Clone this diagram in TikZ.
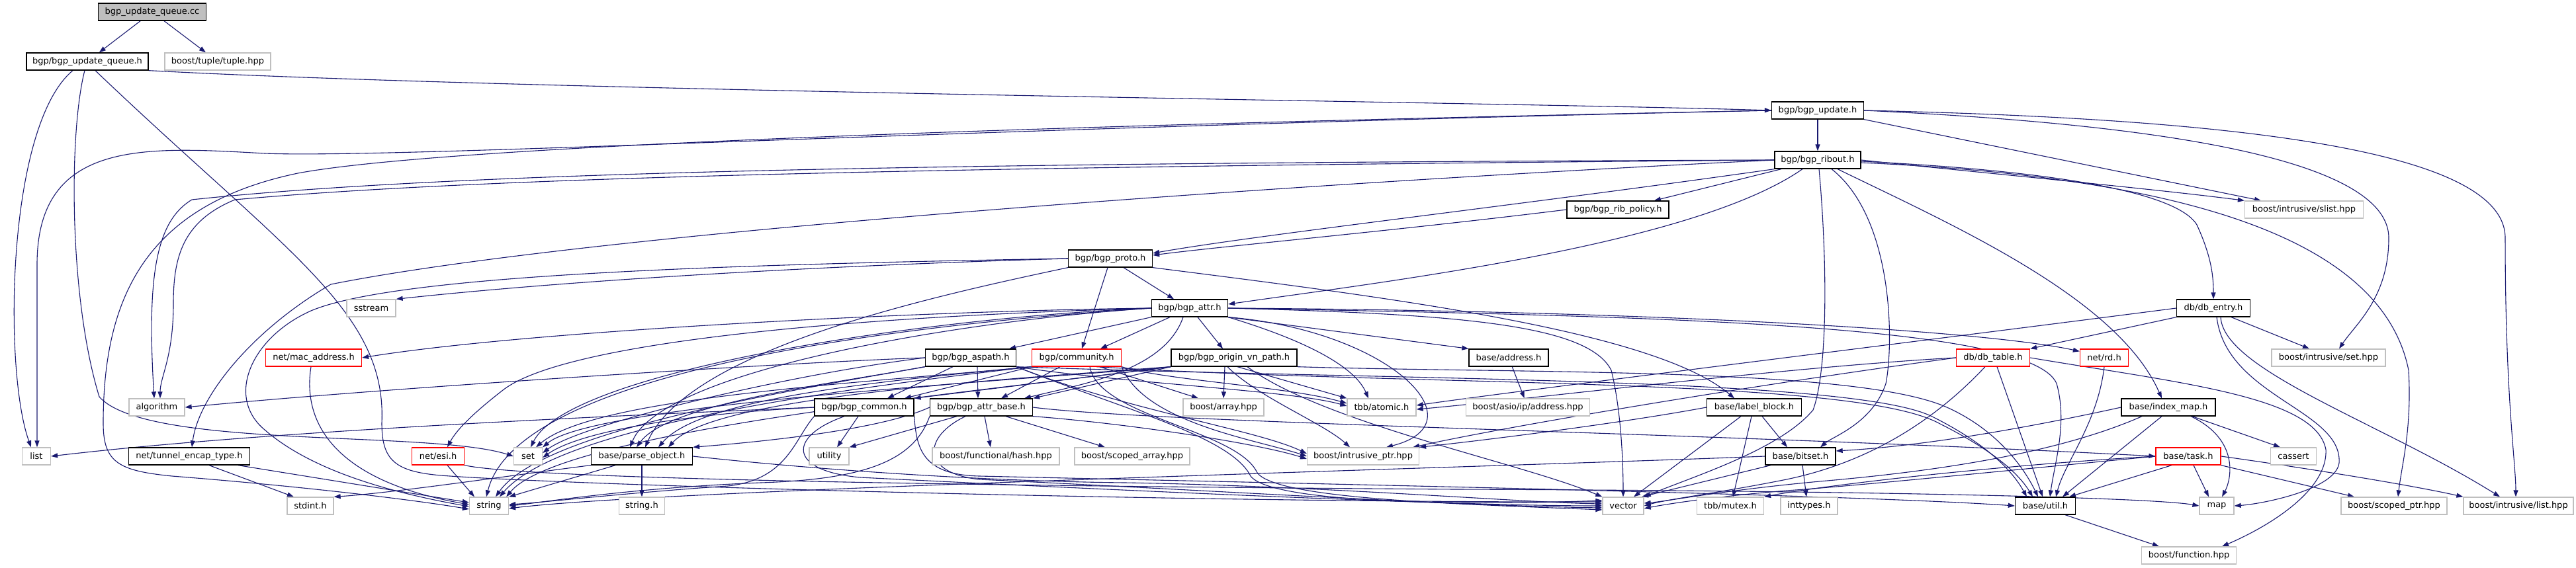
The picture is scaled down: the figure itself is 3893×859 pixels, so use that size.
\documentclass[tikz,border=0pt]{standalone}
\usepackage{fontspec}
\setmainfont{DejaVu Sans}
\usetikzlibrary{arrows.meta}
\definecolor{linkblue}{HTML}{191970}
\definecolor{grey75}{HTML}{BFBFBF}
\definecolor{trunc}{HTML}{FF0000}
\pgfdeclarelayer{background}
\pgfsetlayers{background,main}

\begin{document}
\begin{tikzpicture}[
  x=1pt, y=-1pt,
  hdrbox/.style={draw=black, fill=white, line width=1.3pt, minimum height=26pt, inner sep=0pt, font=\fontsize{13}{15}\selectfont},
  sysbox/.style={hdrbox, draw=grey75},
  cutbox/.style={hdrbox, draw=trunc},
  rootbox/.style={hdrbox, fill=grey75},
  dep/.style={->, draw=linkblue, line width=1.1pt},
  >={Triangle[length=10pt,width=7pt]}
]
\useasboundingbox (0,0) rectangle (3893,859);

\node[rootbox, minimum width=163pt] (cc) at (230,18) {bgp\_update\_queue.cc};
\node[hdrbox, minimum width=184pt] (uqh) at (132,93) {bgp/bgp\_update\_queue.h};
\node[sysbox, minimum width=160pt] (tuple) at (329,93) {boost/tuple/tuple.hpp};
\node[hdrbox, minimum width=139pt] (upd) at (2747,167) {bgp/bgp\_update.h};
\node[hdrbox, minimum width=130pt] (ribout) at (2747,242) {bgp/bgp\_ribout.h};
\node[hdrbox, minimum width=154pt] (ribpol) at (2445,317) {bgp/bgp\_rib\_policy.h};
\node[sysbox, minimum width=179pt] (slist) at (3482,317) {boost/intrusive/slist.hpp};
\node[hdrbox, minimum width=127pt] (proto) at (1678,391) {bgp/bgp\_proto.h};
\node[sysbox, minimum width=74pt] (sstream) at (561,466) {sstream};
\node[hdrbox, minimum width=115pt] (attr) at (1798,466) {bgp/bgp\_attr.h};
\node[hdrbox, minimum width=111pt] (dbentry) at (3345,466) {db/db\_entry.h};
\node[cutbox, minimum width=145pt] (macaddr) at (474,541) {net/mac\_address.h};
\node[hdrbox, minimum width=137pt] (aspath) at (1467,541) {bgp/bgp\_aspath.h};
\node[cutbox, minimum width=135pt] (community) at (1627,541) {bgp/community.h};
\node[hdrbox, minimum width=190pt] (originvn) at (1865,541) {bgp/bgp\_origin\_vn\_path.h};
\node[hdrbox, minimum width=120pt] (address) at (2280,541) {base/address.h};
\node[cutbox, minimum width=111pt] (dbtable) at (3012,541) {db/db\_table.h};
\node[cutbox, minimum width=73pt] (rd) at (3180,541) {net/rd.h};
\node[sysbox, minimum width=172pt] (isethpp) at (3519,541) {boost/intrusive/set.hpp};
\node[sysbox, minimum width=84pt] (algorithm) at (237,616) {algorithm};
\node[hdrbox, minimum width=150pt] (common) at (1306,616) {bgp/bgp\_common.h};
\node[hdrbox, minimum width=155pt] (attrbase) at (1483,616) {bgp/bgp\_attr\_base.h};
\node[sysbox, minimum width=122pt] (array) at (1849,616) {boost/array.hpp};
\node[sysbox, minimum width=104pt] (atomic) at (2088,616) {tbb/atomic.h};
\node[sysbox, minimum width=187pt] (asioaddr) at (2309,616) {boost/asio/ip/address.hpp};
\node[hdrbox, minimum width=143pt] (labelblock) at (2651,616) {base/label\_block.h};
\node[hdrbox, minimum width=142pt] (indexmap) at (3277,616) {base/index\_map.h};
\node[sysbox, minimum width=43pt] (list) at (55,690) {list};
\node[hdrbox, minimum width=183pt] (tunnel) at (286,690) {net/tunnel\_encap\_type.h};
\node[cutbox, minimum width=79pt] (esi) at (662,690) {net/esi.h};
\node[sysbox, minimum width=43pt] (set) at (798,690) {set};
\node[hdrbox, minimum width=153pt] (parseobj) at (970,690) {base/parse\_object.h};
\node[sysbox, minimum width=60pt] (utility) at (1253,690) {utility};
\node[sysbox, minimum width=192pt] (hash) at (1505,690) {boost/functional/hash.hpp};
\node[sysbox, minimum width=174pt] (scopedarr) at (1711,690) {boost/scoped\_array.hpp};
\node[sysbox, minimum width=169pt] (intrusiveptr) at (2060,690) {boost/intrusive\_ptr.hpp};
\node[hdrbox, minimum width=106pt] (bitset) at (2721,690) {base/bitset.h};
\node[cutbox, minimum width=98pt] (task) at (3307,690) {base/task.h};
\node[sysbox, minimum width=69pt] (cassert) at (3466,690) {cassert};
\node[sysbox, minimum width=70pt] (stdint) at (469,765) {stdint.h};
\node[sysbox, minimum width=59pt] (string) at (739,765) {string};
\node[sysbox, minimum width=69pt] (stringh) at (970,765) {string.h};
\node[sysbox, minimum width=62pt] (vector) at (2453,765) {vector};
\node[sysbox, minimum width=101pt] (mutex) at (2615,765) {tbb/mutex.h};
\node[sysbox, minimum width=86pt] (inttypes) at (2734,765) {inttypes.h};
\node[hdrbox, minimum width=91pt] (util) at (3091,765) {base/util.h};
\node[sysbox, minimum width=52pt] (map) at (3350,765) {map};
\node[sysbox, minimum width=160pt] (scopedptr) at (3618,765) {boost/scoped\_ptr.hpp};
\node[sysbox, minimum width=166pt] (ilist) at (3806,765) {boost/intrusive/list.hpp};
\node[sysbox, minimum width=143pt] (function) at (3308,840) {boost/function.hpp};

\begin{pgfonlayer}{background}
\fill[white] (0,0) rectangle (3893,859);
\draw[dep] (cc) -- (uqh);
\draw[dep] (cc) -- (tuple);

\draw[dep] (uqh.south east) .. controls (800,138) and (2300,155) .. (upd.west);
\draw[dep] ([xshift=-22pt]uqh.south) .. controls (10,190) and (5,560) .. ([xshift=-8pt]list.north);
\draw[dep] ([xshift=-4pt]uqh.south) .. controls (104,200) and (104,450) .. (150,600) .. controls (220,680) and (650,650) .. (set.west);
\draw[dep] ([xshift=12pt]uqh.south) .. controls (430,380) and (585,470) .. (577,640) .. controls (577,700) and (600,715) .. (680,720) .. controls (900,735) and (1800,760) .. ([yshift=6pt]vector.west);

\draw[dep] (upd) -- (ribout);
\draw[dep] (upd.west) .. controls (1500,192) and (600,240) .. (400,232) .. controls (220,222) and (56,210) .. (56,400) -- ([xshift=1pt]list.north);
\draw[dep] (upd.west) .. controls (1800,185) and (700,215) .. (450,262) .. controls (220,310) and (156,450) .. (156,640) .. controls (156,700) and (180,712) .. (260,720) .. controls (450,735) and (620,755) .. ([yshift=-5pt]string.west);
\draw[dep] (upd.south east) -- ([xshift=-65pt]slist.north);
\draw[dep] (upd.east) .. controls (3200,185) and (3610,230) .. (3610,360) .. controls (3610,450) and (3560,490) .. ([xshift=16pt]isethpp.north);
\draw[dep] (upd.east) .. controls (3400,180) and (3786,230) .. (3786,360) .. controls (3786,600) and (3802,700) .. ([xshift=-4pt]ilist.north);

\draw[dep] (ribout.west) .. controls (1500,246) and (700,258) .. (290,302) .. controls (235,335) and (222,420) .. ([xshift=-4pt]algorithm.north);
\draw[dep] (ribout.west) .. controls (1500,252) and (750,266) .. (355,302) .. controls (275,335) and (262,390) .. (262,460) .. controls (262,540) and (242,570) .. ([xshift=5pt]algorithm.north);
\draw[dep] (ribout.west) .. controls (2000,275) and (900,350) .. (500,430) .. controls (380,500) and (300,600) .. ([xshift=4pt]tunnel.north);
\draw[dep] (ribout.south west) .. controls (2300,310) and (1900,355) .. ([yshift=8pt]proto.east);
\draw[dep] (ribout) -- (ribpol);
\draw[dep] ([xshift=-23pt]ribout.south) .. controls (2560,370) and (2100,425) .. ([yshift=6pt]attr.east);
\draw[dep] ([xshift=2pt]ribout.south) .. controls (2762,400) and (2762,560) .. (2740,620) .. controls (2690,680) and (2560,720) .. (vector.north east);
\draw[dep] ([xshift=21pt]ribout.south) .. controls (2862,330) and (2862,520) .. (2850,580) .. controls (2830,640) and (2770,660) .. ([xshift=30pt]bitset.north);
\draw[dep] ([xshift=30pt]ribout.south) .. controls (2950,340) and (3200,450) .. ([xshift=-10pt]indexmap.north);
\draw[dep] ([yshift=-2pt]ribout.east) .. controls (3100,258) and (3290,290) .. (3320,340) .. controls (3343,390) and (3345,420) .. (dbentry.north);
\draw[dep] ([yshift=-4pt]ribout.east) .. controls (3300,268) and (3600,360) .. (3640,560) .. controls (3645,650) and (3630,700) .. ([xshift=6pt]scopedptr.north);
\draw[dep] (ribout.east) .. controls (3000,262) and (3250,285) .. (slist.north west);

\draw[dep] (ribpol.west) .. controls (2100,350) and (1850,372) .. ([yshift=5pt]proto.east);

\draw[dep] (proto.west) .. controls (1300,400) and (900,420) .. (sstream.north east);
\draw[dep] (proto.west) .. controls (1100,400) and (600,415) .. (470,470) .. controls (380,510) and (340,600) .. (400,650) .. controls (480,720) and (620,750) .. ([yshift=-1pt]string.west);
\draw[dep] (proto.south west) .. controls (1400,450) and (1040,530) .. ([xshift=5pt]parseobj.north);
\draw[dep] ([xshift=-4pt]proto.south) -- ([xshift=8pt]community.north);
\draw[dep] ([xshift=20pt]proto.south) -- ([xshift=-24pt]attr.north);
\draw[dep] (proto.south east) .. controls (2100,450) and (2500,500) .. ([xshift=-30pt]labelblock.north);

\draw[dep] (attr.south west) -- ([xshift=58pt]aspath.north);
\draw[dep] ([xshift=-30pt]attr.south) -- ([xshift=36pt]community.north);
\draw[dep] ([xshift=12pt]attr.south) -- ([xshift=-17pt]originvn.north);
\draw[dep] ([xshift=-10pt]attr.south) .. controls (1760,560) and (1640,580) .. ([xshift=65pt]attrbase.north);
\draw[dep] (attr.west) .. controls (1400,470) and (800,500) .. (macaddr.east);
\draw[dep] (attr.west) .. controls (1250,480) and (850,520) .. (760,590) .. controls (715,625) and (690,650) .. ([xshift=14pt]esi.north);
\draw[dep] (attr.west) .. controls (1400,480) and (860,560) .. ([xshift=4pt]set.north);
\draw[dep] (attr.west) .. controls (1300,495) and (780,570) .. ([xshift=-4pt]string.north);
\draw[dep] (attr.west) .. controls (1450,485) and (1000,560) .. ([xshift=-18pt]parseobj.north);
\draw[dep] (attr.south east) -- (address.north west);
\draw[dep] (attr.south east) .. controls (1990,520) and (2050,560) .. ([xshift=-20pt]atomic.north);
\draw[dep] (attr.south east) .. controls (2100,500) and (2240,640) .. ([xshift=35pt]intrusiveptr.north);
\draw[dep] (attr.east) .. controls (2200,475) and (2400,490) .. (2435,560) .. controls (2450,620) and (2453,700) .. (vector.north);
\draw[dep] (attr.east) .. controls (2500,478) and (3070,490) .. (3108,580) .. controls (3125,640) and (3105,700) .. ([xshift=7pt]util.north);
\draw[dep] (attr.east) .. controls (2500,470) and (3000,500) .. ([yshift=-4pt]rd.north west);

\draw[dep] (aspath.west) .. controls (1200,548) and (600,585) .. (algorithm.east);
\draw[dep] (aspath.west) .. controls (1200,565) and (880,640) .. ([yshift=5pt]set.east);
\draw[dep] (aspath.south west) .. controls (1200,590) and (820,650) .. ([xshift=10pt]string.north);
\draw[dep] (aspath.south west) .. controls (1260,580) and (1010,610) .. ([xshift=-8pt]parseobj.north);
\draw[dep] ([xshift=-27pt]aspath.south) -- ([xshift=35pt]common.north);
\draw[dep] ([xshift=10pt]aspath.south) -- ([xshift=-5pt]attrbase.north);
\draw[dep] (aspath.south east) .. controls (1700,580) and (1950,590) .. ([yshift=2pt]atomic.west);
\draw[dep] (aspath.south east) .. controls (1700,620) and (1900,650) .. ([yshift=4pt]intrusiveptr.west);
\draw[dep] (aspath.south east) .. controls (1700,620) and (1860,660) .. (1890,720) .. controls (1920,760) and (2200,765) .. ([yshift=8pt]vector.west);
\draw[dep] (aspath.south east) .. controls (2100,575) and (2800,570) .. (2920,630) .. controls (3000,670) and (3040,710) .. ([xshift=-28pt]util.north);

\draw[dep] (community.south west) .. controls (1300,580) and (900,600) .. ([xshift=12pt]set.north);
\draw[dep] (community.south west) .. controls (1300,585) and (850,640) .. ([xshift=16pt]string.north);
\draw[dep] (community.south west) .. controls (1350,575) and (1060,600) .. ([xshift=25pt]parseobj.north);
\draw[dep] (community.south west) -- ([xshift=61pt]common.north);
\draw[dep] ([xshift=-25pt]community.south) -- ([xshift=30pt]attrbase.north);
\draw[dep] ([xshift=35pt]community.south) -- ([xshift=-38pt]array.north);
\draw[dep] (community.south east) .. controls (1760,575) and (1950,585) .. ([yshift=6pt]atomic.west);
\draw[dep] (community.south east) .. controls (1730,640) and (1900,665) .. (intrusiveptr.west);
\draw[dep] ([xshift=20pt]community.south) .. controls (1660,630) and (1870,650) .. (1900,715) .. controls (1930,755) and (2200,762) .. ([yshift=-6pt]vector.west);
\draw[dep] ([xshift=30pt]community.south) .. controls (2150,585) and (2800,570) .. (2930,640) .. controls (3010,680) and (3050,715) .. ([xshift=-19pt]util.north);

\draw[dep] (originvn.south west) .. controls (1550,575) and (900,610) .. (set.north east);
\draw[dep] (originvn.south west) .. controls (1500,590) and (850,650) .. ([xshift=-4pt]string.north east);
\draw[dep] (originvn.south west) .. controls (1500,575) and (1080,600) .. ([xshift=40pt]parseobj.north);
\draw[dep] (originvn.south west) -- (common.north east);
\draw[dep] (originvn.south west) -- (attrbase.north east);
\draw[dep] ([xshift=-14pt]originvn.south) -- (array.north);
\draw[dep] ([xshift=5pt]originvn.south) -- (atomic.north west);
\draw[dep] ([xshift=-10pt]originvn.south) .. controls (1900,600) and (2000,640) .. ([xshift=-20pt]intrusiveptr.north);
\draw[dep] ([xshift=20pt]originvn.south) .. controls (2000,640) and (2300,700) .. (vector.north west);
\draw[dep] (originvn.south east) .. controls (2300,565) and (2800,555) .. (2940,615) .. controls (3020,650) and (3060,710) .. ([xshift=-11pt]util.north);

\draw[dep] (common.west) .. controls (900,630) and (400,652) .. (list.east);
\draw[dep] ([xshift=-9pt]common.south) -- ([xshift=12pt]utility.north);
\draw[dep] (common.west) .. controls (1050,625) and (880,650) .. ([yshift=-2pt]set.east);
\draw[dep] (common.south west) .. controls (1200,665) and (1190,725) .. (1100,735) .. controls (950,745) and (820,760) .. ([yshift=2pt]string.east);
\draw[dep] ([xshift=-30pt]common.south) .. controls (1190,660) and (1190,712) .. (1300,722) .. controls (1700,742) and (2200,765) .. (vector.west);
\draw[dep] (common.south east) .. controls (1385,680) and (1395,718) .. (1480,720) .. controls (2000,732) and (2800,748) .. (util.west);

\draw[dep] (attrbase.west) .. controls (1320,655) and (1100,672) .. (parseobj.north east);
\draw[dep] ([xshift=-37pt]attrbase.south) -- (utility.north east);
\draw[dep] ([xshift=5pt]attrbase.south) -- ([xshift=-8pt]hash.north);
\draw[dep] ([xshift=37pt]attrbase.south) -- ([xshift=-41pt]scopedarr.north);
\draw[dep] (attrbase.south east) .. controls (1700,640) and (1900,670) .. ([yshift=-4pt]intrusiveptr.west);
\draw[dep] (attrbase.south west) .. controls (1380,700) and (1300,725) .. (1150,730) .. controls (950,738) and (820,760) .. (string.east);
\draw[dep] ([xshift=-24pt]attrbase.south) .. controls (1395,660) and (1390,715) .. (1480,725) .. controls (1800,740) and (2200,765) .. ([yshift=-3pt]vector.west);
\draw[dep] (attrbase.east) .. controls (1750,640) and (2600,655) .. (task.west);

\draw[dep] ([xshift=-40pt]parseobj.south) -- (string.north east);
\draw[dep] (parseobj.south west) .. controls (800,715) and (600,745) .. (stdint.north east);
\draw[dep] (parseobj) -- (stringh);
\draw[dep] (parseobj.east) .. controls (1250,712) and (1500,728) .. (1700,730) .. controls (2000,735) and (2300,760) .. ([yshift=3pt]vector.west);

\draw[dep] ([xshift=14pt]esi.south) -- ([xshift=-22pt]string.north);
\draw[dep] (esi.south east) .. controls (800,725) and (1500,735) .. (2200,740) .. controls (2800,742) and (3250,752) .. (map.west);
\draw[dep] ([xshift=-4pt]macaddr.south) .. controls (455,650) and (520,730) .. ([yshift=2pt]string.west);
\draw[dep] ([xshift=30pt]tunnel.south) -- ([xshift=-25pt]stdint.north);
\draw[dep] ([xshift=74pt]tunnel.south) -- ([yshift=5pt]string.west);
\draw[dep] (address) -- (asioaddr);

\draw[dep] (labelblock.west) .. controls (2450,640) and (2250,665) .. (intrusiveptr.north east);
\draw[dep] ([xshift=-20pt]labelblock.south) -- ([xshift=16pt]vector.north);
\draw[dep] ([xshift=-4pt]labelblock.south) -- ([xshift=4pt]mutex.north);
\draw[dep] ([xshift=12pt]labelblock.south) -- ([xshift=-20pt]bitset.north);
\draw[dep] ([xshift=-45pt]bitset.south) -- ([xshift=28pt]vector.north);
\draw[dep] ([xshift=3pt]bitset.south) -- ([xshift=-4pt]inttypes.north);
\draw[dep] (bitset.west) .. controls (2300,705) and (1000,740) .. ([yshift=-4pt]string.east);

\draw[dep] (dbentry.west) .. controls (2950,510) and (2300,590) .. ([yshift=3pt]atomic.east);
\draw[dep] (dbentry.south west) -- (dbtable.north east);
\draw[dep] ([xshift=27pt]dbentry.south) -- ([xshift=-29pt]isethpp.north);
\draw[dep] ([xshift=5pt]dbentry.south) .. controls (3365,600) and (3540,620) .. (3535,700) .. controls (3530,740) and (3420,762) .. (map.east);
\draw[dep] ([xshift=11pt]dbentry.south) .. controls (3360,560) and (3600,640) .. ([xshift=-28pt]ilist.north);

\draw[dep] (dbtable.west) .. controls (2700,555) and (2300,605) .. ([yshift=-3pt]atomic.east);
\draw[dep] (dbtable.west) .. controls (2700,575) and (2300,640) .. ([xshift=-10pt]intrusiveptr.north east);
\draw[dep] ([xshift=-12pt]dbtable.south) .. controls (2920,640) and (2820,700) .. (2700,725) .. controls (2600,745) and (2520,755) .. (vector.east);
\draw[dep] ([xshift=6pt]dbtable.south) -- ([xshift=-4pt]util.north);
\draw[dep] (dbtable.east) .. controls (3300,580) and (3500,600) .. (3515,680) .. controls (3518,745) and (3420,800) .. ([xshift=50pt]function.north);
\draw[dep] (rd.south) .. controls (3170,640) and (3120,700) .. ([xshift=16pt]util.north);

\draw[dep] (indexmap.west) .. controls (3050,650) and (2900,675) .. ([yshift=8pt]bitset.east);
\draw[dep] ([xshift=-40pt]indexmap.south) .. controls (3100,690) and (2900,715) .. (2750,728) .. controls (2600,742) and (2520,758) .. ([yshift=4pt]vector.east);
\draw[dep] ([xshift=-10pt]indexmap.south) -- ([xshift=26pt]util.north);
\draw[dep] ([xshift=36pt]indexmap.south) -- ([xshift=-20pt]cassert.north);
\draw[dep] ([xshift=34pt]indexmap.south) .. controls (3385,665) and (3372,725) .. ([xshift=8pt]map.north);

\draw[dep] (task.west) .. controls (3000,705) and (2750,735) .. (mutex.north east);
\draw[dep] (task.west) .. controls (3000,715) and (2800,735) .. (2700,742) .. controls (2600,750) and (2520,762) .. ([yshift=-4pt]vector.east);
\draw[dep] ([xshift=-25pt]task.south) -- ([xshift=36pt]util.north);
\draw[dep] ([xshift=8pt]task.south) -- ([xshift=-12pt]map.north);
\draw[dep] (task.south east) -- ([xshift=-60pt]scopedptr.north);
\draw[dep] (task.east) .. controls (3500,710) and (3650,735) .. (ilist.north west);
\draw[dep] ([xshift=30pt]util.south) -- ([xshift=-45pt]function.north);
\end{pgfonlayer}
\end{tikzpicture}
\end{document}
